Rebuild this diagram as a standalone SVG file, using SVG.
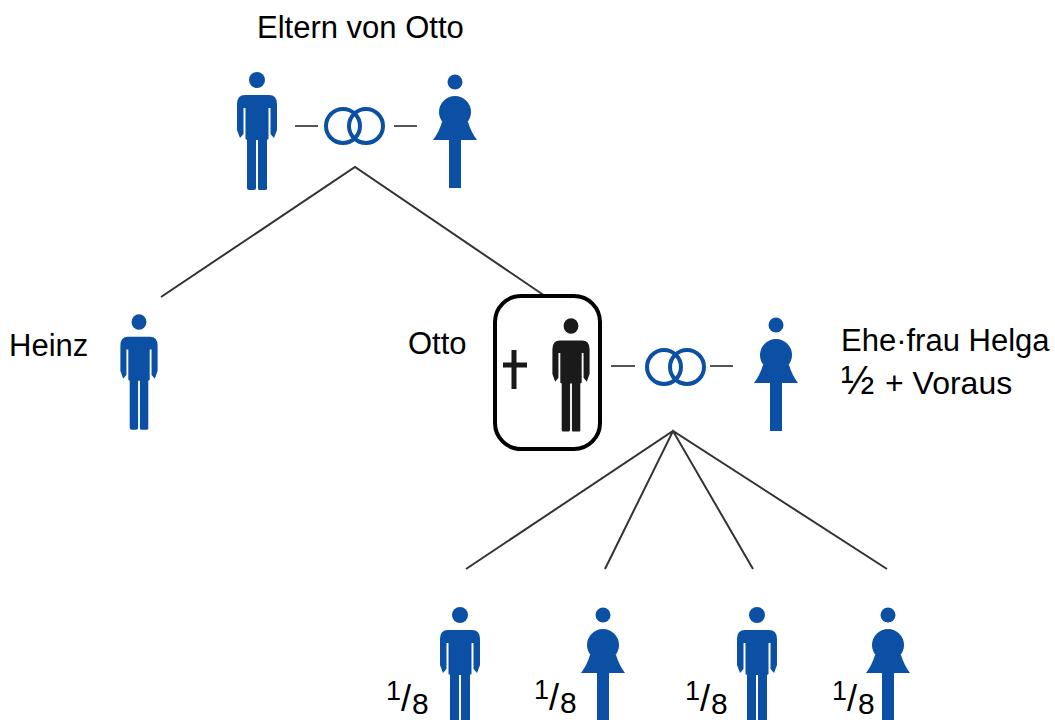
<svg xmlns="http://www.w3.org/2000/svg" width="1055" height="720" viewBox="0 0 1055 720">
<style>
text{font-family:"Liberation Sans",Arial,sans-serif;font-size:31px;fill:#000}
.f{font-size:27px}.s{font-size:36px}.e{font-size:30px}
.h{font-size:40px}.v{font-size:32px}
.l{stroke:#333;stroke-width:2;fill:none}
.d{stroke:#555;stroke-width:2;fill:none}
.r{stroke:#0b50a5;stroke-width:4;fill:none}
.b{fill:#0b50a5}
.k{fill:#1a1a1a}
</style>
<defs>
<symbol id="man" overflow="visible">
<circle cx="0" cy="0" r="8"/>
<path d="M-12,15H12Q20,15 20,24V50L17,58L13.500,54V28H11.500V59L10,60V109Q10,110 8,110H2Q1,110 1,108V60H-1V108Q-1,110 -3,110H-8Q-10,110 -10,108V60L-11.500,59V28H-13.500V54L-17,58L-20,50V24Q-20,15 -12,15Z"/>
</symbol>
<symbol id="woman" overflow="visible">
<circle cx="0" cy="0" r="7.500"/>
<circle cx="0" cy="30" r="16"/>
<path d="M-13,40Q-16,50 -22,58H-6V106H6V58H22Q16,50 13,40Z"/>
</symbol>
</defs>
<g id="connectors">
<path class="l" d="M161,297L355,167L545,296"/>
<path class="l" d="M466,569L673,431L887,569M605,569L673,431L753,569"/>
<path class="d" d="M295,126H318M394,126H417M611,366H635M710,366H733"/>
</g>
<g id="label-eltern"><text x="257" y="38">Eltern von Otto</text></g>
<g id="father"><use class="b" href="#man" x="257" y="80"/></g>
<g id="rings-parents"><circle class="r" cx="343" cy="126" r="17"/><circle class="r" cx="366" cy="126" r="17"/></g>
<g id="mother"><use class="b" href="#woman" x="455" y="82"/></g>
<g id="heinz"><text x="9" y="356">Heinz</text><use class="b" href="#man" transform="translate(139,322) scale(.93,.98)"/></g>
<g id="otto"><text x="408" y="354">Otto</text>
<rect x="495" y="296" width="105" height="153" rx="26" fill="none" stroke="#000" stroke-width="4"/>
<path d="M514,350V389M503,365H527" stroke="#1a1a1a" stroke-width="5" fill="none"/>
<use class="k" href="#man" transform="translate(571,326) scale(.93,.96)"/></g>
<g id="rings-otto"><circle class="r" cx="664" cy="367" r="17"/><circle class="r" cx="687" cy="367" r="17"/></g>
<g id="helga"><use class="b" href="#woman" x="776" y="325"/><text x="841" y="351">Ehe·frau Helga</text><text x="841" y="394"><tspan class="h">½</tspan><tspan class="v" x="885">+ Voraus</tspan></text></g>
<g id="child1"><use class="b" href="#man" x="460" y="615"/><text><tspan class="f" x="386" y="700">1</tspan><tspan class="s" x="401" y="711">/</tspan><tspan class="e" x="412" y="714">8</tspan></text></g>
<g id="child2"><use class="b" href="#woman" x="603" y="615"/><text><tspan class="f" x="534" y="699">1</tspan><tspan class="s" x="549" y="710">/</tspan><tspan class="e" x="560" y="713">8</tspan></text></g>
<g id="child3"><use class="b" href="#man" x="757" y="615"/><text><tspan class="f" x="685" y="700">1</tspan><tspan class="s" x="700" y="711">/</tspan><tspan class="e" x="711" y="714">8</tspan></text></g>
<g id="child4"><use class="b" href="#woman" x="888" y="615"/><text><tspan class="f" x="832" y="700">1</tspan><tspan class="s" x="847" y="711">/</tspan><tspan class="e" x="858" y="714">8</tspan></text></g>
</svg>
